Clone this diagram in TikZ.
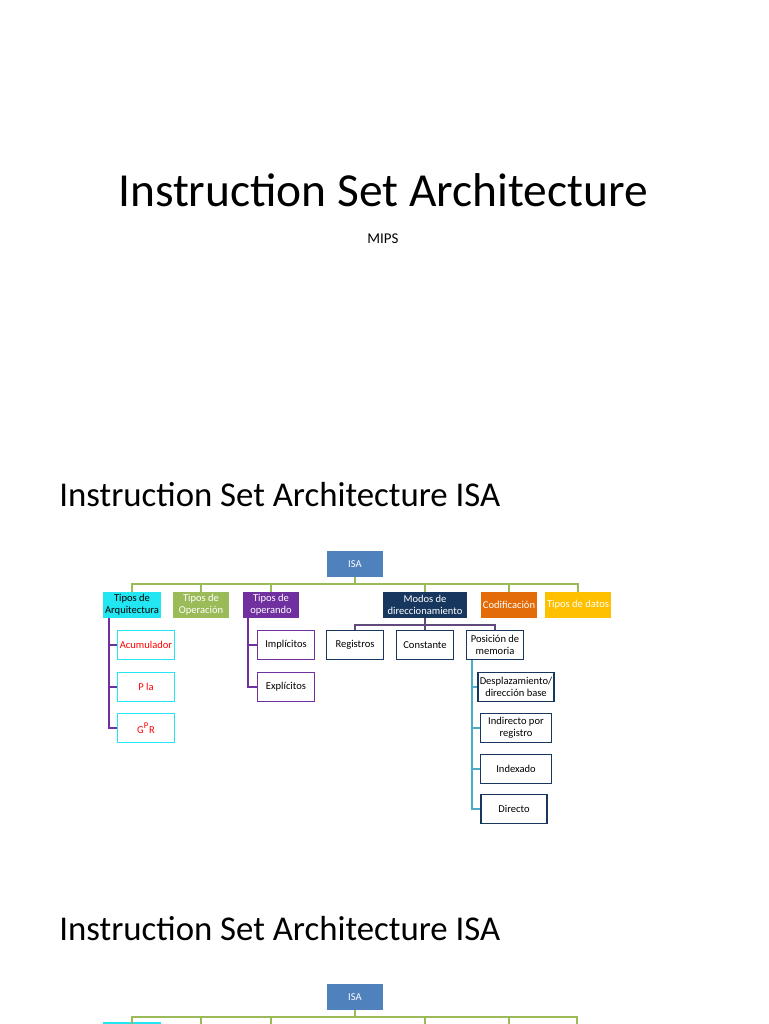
\documentclass[tikz,border=0pt]{standalone}
\usepackage{fontspec}
\setmainfont{Carlito}
\usetikzlibrary{positioning}
\definecolor{isablue}{HTML}{4F81BD}
\definecolor{opgreen}{HTML}{9BBB59}
\definecolor{oppurple}{HTML}{7030A0}
\definecolor{navy}{HTML}{17375E}
\definecolor{codorange}{HTML}{E36C09}
\definecolor{datgold}{HTML}{FFC000}
\definecolor{arqcyan}{HTML}{22E6F2}
\definecolor{posblue}{HTML}{4BACC6}
\definecolor{busviolet}{HTML}{604A7B}

\begin{document}
\begin{tikzpicture}[x=0.02cm,y=-0.02cm,font=\fontsize{6}{7}\selectfont]
        % Setup the styles for the boxes
        \tikzset{head/.style={draw=none, align=center, text=white,
                              minimum width=1.12cm, minimum height=0.52cm, inner sep=1pt},
                 leaf/.style={draw, fill=white, line width=0.9pt, align=center,
                              minimum width=1.14cm, minimum height=0.58cm, inner sep=1pt}}

        \fill[white] (0,0) rectangle (768,1024);
        \useasboundingbox (0,0) rectangle (768,1024);

        % Titles
        \node (title) at (383,190) {\fontsize{27}{31}\selectfont Instruction Set Architecture};
        \node (sub) at (383,239) {\fontsize{8.5}{10}\selectfont MIPS};
        \node[anchor=west, inner sep=0pt] (isa1) at (59,495) {\fontsize{19.8}{23}\selectfont Instruction Set Architecture ISA};
        \node[anchor=west, inner sep=0pt] (isa2) at (59,929) {\fontsize{19.8}{23}\selectfont Instruction Set Architecture ISA};

        % Draw the first level
        \node[head, fill=isablue] at (355,564) (isa) {ISA};
        \node[head, fill=arqcyan, text=black, minimum width=1.16cm] at (132,605) (arq) {Tipos de\\Arquitectura};
        \node[head, fill=opgreen] at (201,605) (oper) {Tipos de\\Operación};
        \node[head, fill=oppurple] at (271,605) (opnd) {Tipos de\\operando};
        \node[head, fill=navy, minimum width=1.68cm] at (425,605) (modos) {Modos de\\direccionamiento};
        \node[head, fill=codorange] at (509,605) (cod) {Codificación};
        \node[head, fill=datgold, minimum width=1.08cm] at (578,605) (datos) {Tipos de datos};

        % Draw the leaves
        \node[leaf, draw=arqcyan, text=red] at (146,645) (acu) {Acumulador};
        \node[leaf, draw=arqcyan, text=red] at (146,687) (pila) {P la};
        \node[leaf, draw=arqcyan, text=red] at (146,728) (gpr) {G\textsuperscript{P}R};
        \node[leaf, draw=oppurple] at (286,645) (impl) {Implícitos};
        \node[leaf, draw=oppurple] at (286,687) (expl) {Explícitos};
        \node[leaf, draw=navy] at (355,645) (reg) {Registros};
        \node[leaf, draw=navy] at (425,645) (cons) {Constante};
        \node[leaf, draw=navy] at (495,645) (pos) {Posición de\\memoria};
        \node[leaf, draw=navy, minimum width=1.42cm] at (516,687) (desp) {Desplazamiento/\\dirección base};
        \node[leaf, draw=navy, minimum width=1.42cm] at (516,728) (indr) {Indirecto por\\registro};
        \node[leaf, draw=navy, minimum width=1.42cm] at (516,769) (idx) {Indexado};
        \node[leaf, draw=navy, minimum width=1.32cm] at (514,809) (dir) {Directo};

        % Second slide, cut off at the bottom
        \node[head, fill=isablue] at (355,997) (isab) {ISA};
        \node[head, fill=arqcyan, anchor=north, minimum width=1.16cm] at (132,1022) (arqb) {};

        % Connect the boxes
        \coordinate (bus) at (355,584);
        \coordinate (busb) at (355,1017);
        \coordinate (arqT) at (109,618);
        \coordinate (opndT) at (248,618);
        \coordinate (modosB) at (425,625);
        \coordinate (posT) at (472,660);
        \draw[opgreen, line width=0.8pt]
            (isa.south) -- (bus)
            (bus) -| (arq.north)  (bus) -| (oper.north)  (bus) -| (opnd.north)
            (bus) -| (modos.north)  (bus) -| (cod.north)  (bus) -| (datos.north);
        \draw[opgreen, line width=0.8pt]
            (isab.south) -- (busb)
            (busb) -| (132,1024)  (busb) -| (201,1024)  (busb) -| (271,1024)
            (busb) -| (425,1024)  (busb) -| (509,1024)  (busb) -| (577,1024);
        \draw[oppurple, line width=0.8pt]
            (arqT) |- (acu.west)  (arqT) |- (pila.west)  (arqT) |- (gpr.west)
            (opndT) |- (impl.west)  (opndT) |- (expl.west);
        \draw[busviolet, line width=0.8pt]
            (modos.south) -- (modosB)
            (modosB) -| (reg.north)  (modosB) -| (cons.north)  (modosB) -| (pos.north);
        \draw[posblue, line width=0.8pt]
            (posT) |- (desp.west)  (posT) |- (indr.west)
            (posT) |- (idx.west)  (posT) |- (dir.west);
\end{tikzpicture}
\end{document}
